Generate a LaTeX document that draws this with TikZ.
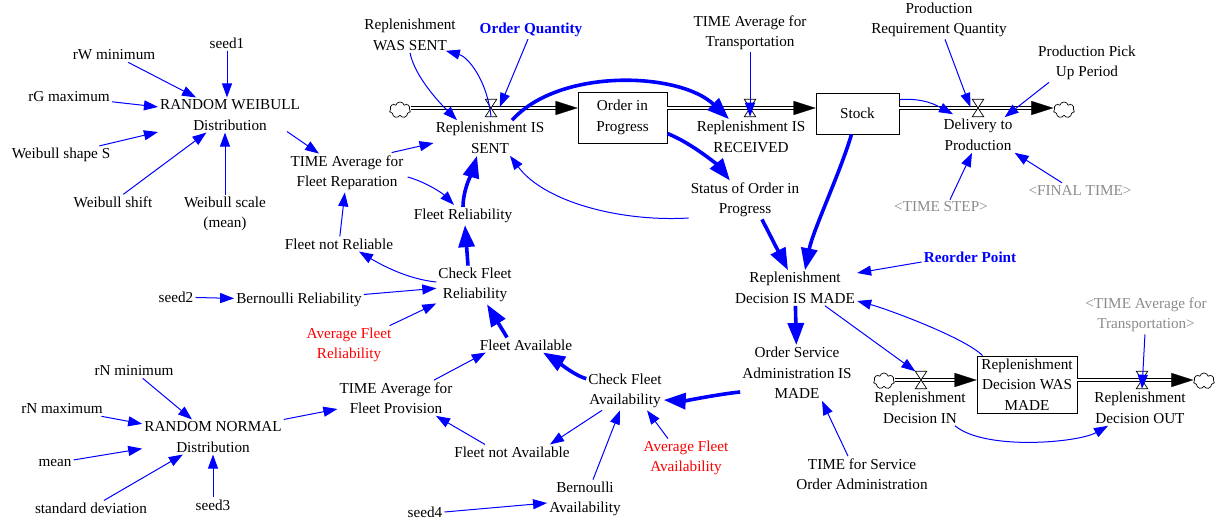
\documentclass[tikz,border=0pt]{standalone}
\usepackage{fontspec}
\setmainfont{Liberation Serif}
\usetikzlibrary{arrows.meta,shapes.symbols,calc}
\definecolor{vblue}{RGB}{0,0,255}
\definecolor{vred}{RGB}{255,0,0}
\definecolor{vgrey}{RGB}{140,140,140}
\newcommand\vfnt{\fontsize{15.2}{20.5}\selectfont}
\begin{document}
\begin{tikzpicture}[x=1pt,y=-1pt,
 var/.style={align=center,font=\vfnt,inner sep=2pt,text=black},
 redvar/.style={var,text=vred},
 greyvar/.style={var,text=vgrey},
 bluevar/.style={var,text=vblue,font=\vfnt\bfseries},
 stockbox/.style={var,draw=black,line width=0.8pt,fill=white},
 valvenode/.style={minimum width=11pt,minimum height=17pt,inner sep=0pt},
 cloudnode/.style={cloud,cloud puffs=7,aspect=1.3,draw=black,line width=0.7pt,fill=white,minimum width=21pt,minimum height=16pt,inner sep=0pt},
 thinarr/.style={draw=vblue,line width=1pt,-{Triangle[length=14pt,width=10pt]}},
 thickarr/.style={draw=vblue,line width=3.6pt,-{Triangle[length=22pt,width=16pt]}},
 pipeline/.style={draw=black,line width=0.9pt,double=white,double distance=2.6pt,shorten >=12pt},
 pipehead/.style={draw=white,line width=0.2pt,-{Triangle[length=22pt,width=14pt,color=black]}},
 valveshape/.style={draw=black,line width=0.7pt,fill=white}
]
\fill[white] (0,0) rectangle (1215,521);
\useasboundingbox (0,0) rectangle (1215,521);

% ---- left: Weibull / reliability
\node[var] (seed1) at (227,43) {seed1};
\node[var] (rwmin) at (114,55) {rW minimum};
\node[var] (rgmax) at (69,97) {rG maximum};
\node[var] (rw) at (230,115) {RANDOM WEIBULL\\Distribution};
\node[var] (wshape) at (61,155) {Weibull shape S};
\node[var] (wshift) at (113,202) {Weibull shift};
\node[var] (wscale) at (225,214) {Weibull scale\\(mean)};
\node[var] (tafr) at (347,173) {TIME Average for\\Fleet Reparation};
\node[var] (fnr) at (339,244) {Fleet not Reliable};
\node[var] (frel) at (463,216) {Fleet Reliability};
\node[var] (cfr) at (475,285) {Check Fleet\\Reliability};
\node[var] (seed2) at (176,297) {seed2};
\node[var] (bernr) at (299,300) {Bernoulli Reliability};
\node[redvar] (afr) at (349,345) {Average Fleet\\Reliability};
\node[var] (favail) at (526,345) {Fleet Available};
\node[var] (cfa) at (625,391) {Check Fleet\\Availability};
\node[var] (fna) at (512,452) {Fleet not Available};
\node[var] (berna) at (585,499) {Bernoulli\\Availability};
\node[var] (seed4) at (425,512) {seed4};
\node[redvar] (afa) at (686,458) {Average Fleet\\Availability};
\node[var] (tafp) at (396,398) {TIME Average for\\Fleet Provision};
\node[var] (rn) at (213,437) {RANDOM NORMAL\\Distribution};
\node[var] (rnmin) at (134,371) {rN minimum};
\node[var] (rnmax) at (62,409) {rN maximum};
\node[var] (mean) at (55,463) {mean};
\node[var] (sd) at (91,508) {standard deviation};
\node[var] (seed3) at (213,505) {seed3};

% ---- top chain
\node[var] (rws) at (410,35) {Replenishment\\WAS SENT};
\node[bluevar] (oq) at (531,30) {Order Quantity};
\node[cloudnode] (cloud1) at (400,110) {};
\node[valvenode] (v1) at (491,108) {};
\node[var] (sentlbl) at (490,138) {Replenishment IS\\SENT};
\node[stockbox,minimum width=89pt,minimum height=51pt] (oip) at (622.5,117.5) {Order in\\Progress};
\node[valvenode] (v2) at (750,108) {};
\node[var] (reclbl) at (751,137) {Replenishment IS\\RECEIVED};
\node[var] (tat) at (750,33) {TIME Average for\\Transportation};
\node[stockbox,minimum width=83pt,minimum height=41pt] (stock) at (857.5,113.5) {Stock};
\node[valvenode] (v3) at (978,108) {};
\node[cloudnode] (cloud2) at (1064,110) {};
\node[var] (dellbl) at (978,135) {Delivery to\\Production};
\node[var] (prq) at (939,20) {Production\\Requirement Quantity};
\node[var] (ppp) at (1087,63) {Production Pick\\Up Period};
\node[greyvar] (tstep) at (941,207) {<TIME STEP>};
\node[greyvar] (ftime) at (1080,190) {<FINAL TIME>};

% ---- right / decision
\node[var] (status) at (745,200) {Status of Order in\\Progress};
\node[var] (rdim) at (795,288) {Replenishment\\Decision IS MADE};
\node[bluevar] (rp) at (970,257) {Reorder Point};
\node[var] (osa) at (797,373) {Order Service\\Administration IS\\MADE};
\node[var] (tsoa) at (862,474) {TIME for Service\\Order Administration};
\node[cloudnode] (cloud3) at (884,381) {};
\node[valvenode] (v4) at (921,380) {};
\node[var] (inlbl) at (920,408) {Replenishment\\Decision IN};
\node[stockbox,minimum width=100pt,minimum height=57pt] (rdwm) at (1027,384.5) {Replenishment\\Decision WAS\\MADE};
\node[valvenode] (v5) at (1142,380) {};
\node[var] (outlbl) at (1140,408) {Replenishment\\Decision OUT};
\node[cloudnode] (cloud4) at (1204,381) {};
\node[greyvar] (tat2) at (1146,315) {<TIME Average for\\Transportation>};

% ---- pipes
\foreach \a/\b/\v in {cloud1.east/oip.west/v1, oip.east/stock.west/v2, stock.east/cloud2.west/v3, cloud3.east/rdwm.west/v4, rdwm.east/cloud4.west/v5}{
  \draw[pipeline] (\a |- \v) -- (\b |- \v);
  \draw[pipehead] (\a |- \v) -- (\b |- \v);
}
\foreach \v in {v1,v2,v3,v4,v5}
  \filldraw[valveshape] (\v.north west) -- (\v.south east) -- (\v.south west) -- (\v.north east) -- cycle;

% ---- connectors: Weibull
\draw[thinarr] (seed1.south) -- (seed1.south |- rw.north);
\draw[thinarr] (rwmin) -- (rw);
\draw[thinarr] (rgmax) -- (rw);
\draw[thinarr] (wshape) -- (rw);
\draw[thinarr] (wshift) -- (rw);
\draw[thinarr] (wscale.north) -- (wscale.north |- rw.south);
\draw[thinarr] ($(rw.south east)+(-15,-1)$) -- ($(tafr.north)+(-28,0)$);
\draw[thinarr] (fnr) -- (tafr);
\draw[thinarr] ($(tafr.north east)+(-14,-1)$) -- ($(sentlbl.west)+(0,5)$);
\draw[thinarr] ($(tafr.east)+(2,4)$) .. controls +(18,5) and +(-12,-12) .. ($(frel.north)+(-9,-2)$);
\draw[thickarr] (frel.north) .. controls +(0,-18) and +(-4,14) .. ($(sentlbl.south)+(-13,0)$);
\draw[thickarr] ($(cfr.north)+(-7,0)$) -- ($(frel.south)+(2,0)$);
\draw[thinarr] ($(cfr.west)+(0,-3)$) .. controls +(-30,-3) and +(20,12) .. ($(fnr.south)+(20,0)$);
\draw[thinarr] (bernr) -- (cfr);
\draw[thinarr] (seed2) -- (bernr);
\draw[thinarr] (afr) -- (cfr);
\draw[thickarr] ($(favail.north)+(-19,0)$) -- ($(cfr.south)+(12,0)$);
\draw[thickarr] ($(cfa.north west)+(0,7)$) .. controls +(-12,-3) and +(10,6) .. ($(favail.south)+(17,0)$);
\draw[thinarr] ($(tafp.north)+(38,0)$) -- ($(favail.south west)+(8,0)$);
\draw[thinarr] (rn.north east) -- ($(tafp.west)+(0,11)$);
\draw[thinarr] ($(fna.north)+(-27,0)$) -- ($(tafp.south)+(40,0)$);
\draw[thinarr] ($(cfa.south)+(-23,0)$) -- ($(fna.north)+(38,0)$);
\draw[thinarr] ($(berna.north)+(8,0)$) -- ($(cfa.south)+(-5,0)$);
\draw[thinarr] (seed4.east) -- ($(berna.west)+(0,4)$);
\draw[thinarr] ($(afa.north)+(-18,0)$) -- ($(cfa.south)+(22,0)$);
\draw[thickarr] ($(osa.west)+(0,19)$) .. controls +(-20,2) and +(20,1) .. ($(cfa.east)+(0,9)$);
% ---- Normal
\draw[thinarr] (rnmin) -- (rn);
\draw[thinarr] (rnmax) -- (rn);
\draw[thinarr] (mean) -- (rn);
\draw[thinarr] (sd) -- (rn);
\draw[thinarr] (seed3.north) -- (seed3.north |- rn.south);
% ---- top chain
\draw[thinarr] (rws.south) .. controls +(5,25) and +(-15,-15) .. ($(sentlbl.north)+(-33,0)$);
\draw[thinarr] (v1.south) .. controls +(-4,-37) and +(22,6) .. ($(rws.south east)+(-12,-2)$);
\draw[thinarr] ($(oq.south)+(-3,0)$) -- ($(v1.east)+(3,-1)$);
\draw[thickarr] ($(sentlbl.north)+(22,0)$) .. controls +(48,-53) and +(-49,-47) .. ($(reclbl.north)+(-22,0)$);
\draw[thinarr] (tat) -- (v2.south);
\draw[thickarr] ($(oip.east)+(0,16)$) .. controls +(25,10) and +(-12,-15) .. ($(status.north)+(-15,0)$);
\draw[thinarr] ($(status.west)+(0,18)$) .. controls +(-66,4) and +(35,47) .. ($(sentlbl.south)+(20,0)$);
\draw[thickarr] ($(status.south)+(17,0)$) -- ($(rdim.north)+(-7,0)$);
\draw[thickarr] ($(stock.south)+(-6,0)$) .. controls +(-12,40) and +(8,-40) .. ($(rdim.north)+(10,0)$);
\draw[thinarr] ($(stock.north east)+(0,7)$) .. controls +(25,-2) and +(-15,-8) .. ($(dellbl.north)+(-25,-3)$);
\draw[thinarr] ($(prq.south)+(6,0)$) -- ($(v3.west)+(-2,-1)$);
\draw[thinarr] ($(ppp.south)+(-38,0)$) -- ($(dellbl.north east)+(-10,0)$);
\draw[thinarr] ($(tstep.north)+(9,0)$) -- ($(dellbl.south)+(-6,0)$);
\draw[thinarr] ($(ftime.north)+(-18,0)$) -- (dellbl.south east);
% ---- decision
\draw[thinarr] ($(rp.west)+(0,5)$) -- ($(rdim.east)+(0,-15)$);
\draw[thickarr] (rdim) -- (osa);
\draw[thinarr] ($(rdim.south)+(30,0)$) -- (v4.north west);
\draw[thinarr] ($(rdwm.north west)+(6,0)$) .. controls +(-18,-18) and +(30,8) .. ($(rdim.east)+(0,13)$);
\draw[thinarr] ($(tsoa.north)+(-14,0)$) -- ($(osa.south)+(25,0)$);
\draw[thinarr] ($(inlbl.south)+(35,0)$) .. controls +(30,25) and +(-30,17) .. ($(outlbl.south)+(-32,0)$);
\draw[thinarr] (tat2) -- (v5.south);
\end{tikzpicture}
\end{document}
